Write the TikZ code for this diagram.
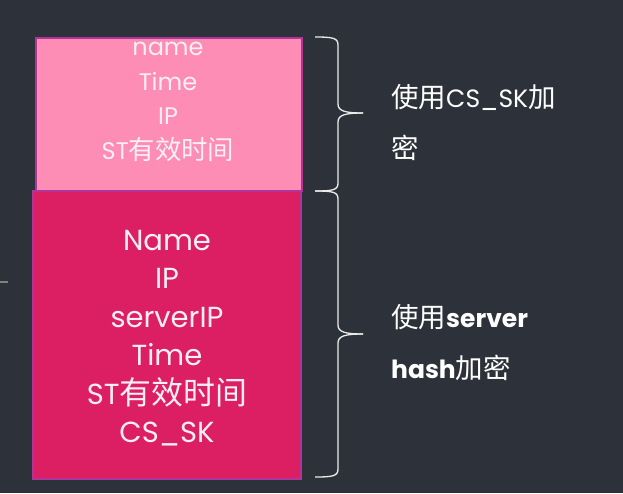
\documentclass[tikz,border=0pt]{standalone}
\usepackage{fontspec}
\setmainfont{Poppins}
\newfontfamily\cjk[Scale=1.1]{Noto Sans CJK SC}
\usetikzlibrary{positioning}
\definecolor{slidebg}{HTML}{2D323A}
\definecolor{ticketpink}{HTML}{FD8DB5}
\definecolor{authred}{HTML}{DC1F63}
\definecolor{boxedge}{HTML}{B0359A}
\definecolor{softwhite}{HTML}{FBEFF4}

\begin{document}
\begin{tikzpicture}[
  x=1pt, y=-1pt,
  field/.style={draw=boxedge, line width=2pt, inner sep=0pt},
  fieldtext/.style={text=softwhite, align=center, inner sep=0pt},
  note/.style={text=white, align=left, anchor=west, inner sep=0pt, font=\fontsize{25}{51}\selectfont},
  curly/.style={draw=white!92!black, line width=1.3pt}
]
\fill[slidebg] (0,0) rectangle (623,493);
\useasboundingbox (0,0) rectangle (623,493);

% the two stacked parts of the ticket
\node[field, fill=ticketpink, minimum width=266pt, minimum height=153pt] (st) at (169,114.5) {};
\node[field, fill=authred, minimum width=268pt, minimum height=288pt] (auth) at (167,335) {};
\node[fieldtext, font=\fontsize{24}{34.5}\selectfont] (sttext) at (168,102)
  {name\\Time\\IP\\ST{\cjk 有效时间}};
\node[fieldtext, font=\fontsize{29}{38.5}\selectfont] (authtext) at (167,338)
  {Name\\IP\\serverIP\\Time\\ST{\cjk 有效时间}\\CS\_SK};

% braces on the right
\foreach \ya/\ym/\yb in {37/113/191, 191/334/477}{
  \draw[curly] (315,\ya) .. controls (333,\ya) and (338,\ya+1) .. (338,\ya+8)
    -- (338,\ym-9) .. controls (338,\ym-2) and (345,\ym) .. (363,\ym);
  \draw[curly] (363,\ym) .. controls (345,\ym) and (338,\ym+2) .. (338,\ym+9)
    -- (338,\yb-8) .. controls (338,\yb-1) and (333,\yb) .. (315,\yb);
}
\coordinate (tipst) at (363,113);
\coordinate (tipauth) at (363,334);

\node[note] (stnote) at ([xshift=28pt, yshift=-9pt]tipst) {{\cjk 使用}CS\_SK{\cjk 加}\\{\cjk 密}};
\node[note] (authnote) at ([xshift=28pt, yshift=-9pt]tipauth) {{\cjk 使用}\textbf{server}\\\textbf{hash}{\cjk 加密}};

% small mark at the left edge
\draw[gray, line width=2pt] (0,282) -- (8,282);
\end{tikzpicture}
\end{document}
